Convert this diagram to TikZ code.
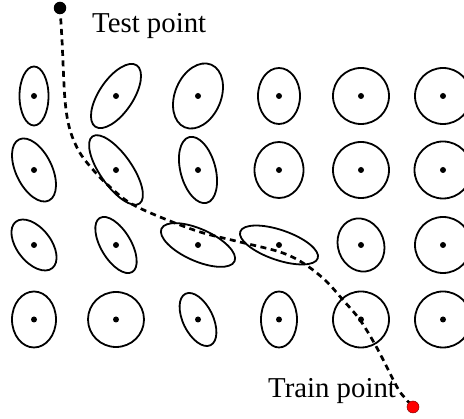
\documentclass[tikz,border=0pt]{standalone}
\usepackage{fontspec}
\setmainfont{Liberation Serif}
\begin{document}
\begin{tikzpicture}[x=1pt,y=1pt,
  ellstyle/.style={draw=black,line width=1.8pt},
  dotstyle/.style={fill=black},
  dashpath/.style={line width=2.7pt,dash pattern=on 6pt off 4.5pt},
  lbl/.style={font=\fontsize{28.8}{34}\selectfont,inner sep=0pt,anchor=base west}]
\useasboundingbox (0,0) rectangle (464,419);
\newcommand{\myell}[5]{%
  \draw[ellstyle,shift={(#1,#2)},rotate=#5] (0,0) ellipse[x radius=#3,y radius=#4];
  \fill[dotstyle] (#1,#2) circle[radius=3];}
% row 1
\myell{34}{323}{14.5}{29.5}{0}
\myell{116}{323}{37}{17}{56}
\myell{198}{323}{34}{23}{67}
\myell{279}{323}{21}{28}{0}
\myell{361}{323}{28}{28}{0}
\myell{443}{323}{28}{28}{0}
% row 2
\myell{34}{249}{18}{34}{26}
\myell{116}{249}{41}{16}{-55}
\myell{198}{249}{17.5}{34}{15}
\myell{279}{249}{24.5}{28}{0}
\myell{361}{249}{28}{28}{0}
\myell{443}{249}{28.5}{28.5}{0}
% row 3
\myell{34}{174}{29.5}{17}{-52}
\myell{116}{174}{31.5}{15}{-59}
\myell{198}{174}{40}{16}{-24}
\myell{279}{174}{41}{15}{-19}
\myell{361}{174}{23}{27}{20}
\myell{443}{174}{28}{28}{0}
% row 4
\myell{34}{99.5}{22}{28}{0}
\myell{116}{99.5}{28}{27.5}{0}
\myell{198}{99.5}{15}{28.6}{26}
\myell{279}{99.5}{18}{28}{0}
\myell{361}{99.5}{28}{28}{0}
\myell{443}{99.5}{28}{28}{0}
% end points
\coordinate (test) at (60,411);
\coordinate (train) at (413,12);
\draw[dashpath] plot[smooth,tension=0.55] coordinates {(test) (62,379) (65,319) (70,289) (80,266) (95,247) (110,232) (130,216) (160,202) (200,187) (240,177) (280,167) (303,156) (325,139) (343,119) (360,99) (377,71) (397,32) (405,21) (train)};
\node[circle,fill=black,inner sep=0pt,minimum size=12.5pt] (testdot) at (test) {};
\node[circle,fill=red,draw=black!50!red,line width=0.5pt,inner sep=0pt,minimum size=12pt] (traindot) at (train) {};
\node[lbl] (testlbl) at (92,386) {Test point};
\node[lbl] (trainlbl) at (268,21) {Train point};
\end{tikzpicture}
\end{document}
